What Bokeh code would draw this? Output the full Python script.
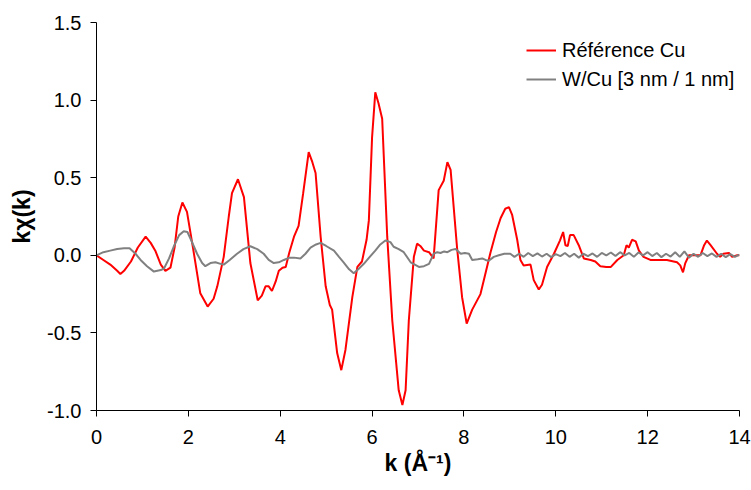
from bokeh.plotting import figure
from bokeh.models import Range1d, FixedTicker, NumeralTickFormatter, Legend, LegendItem
from bokeh.embed import file_html
from bokeh.resources import INLINE

# Référence Cu (red)
ref_k = [0.00, 0.15, 0.30, 0.45, 0.52, 0.60, 0.75, 0.90, 1.07, 1.18, 1.28, 1.40, 1.50, 1.61, 1.70,
         1.78, 1.87, 1.97, 2.10, 2.26, 2.42, 2.55, 2.63, 2.77, 2.88, 2.95, 3.08, 3.21, 3.35, 3.51,
         3.60, 3.68, 3.75, 3.82, 3.90, 3.97, 4.05, 4.12, 4.20, 4.30, 4.40, 4.50, 4.62, 4.70, 4.77,
         4.88, 4.99, 5.08, 5.13, 5.24, 5.33, 5.42, 5.57, 5.68, 5.78, 5.88, 5.93, 6.00, 6.07, 6.14,
         6.22, 6.33, 6.44, 6.58, 6.66, 6.73, 6.80, 6.91, 6.98, 7.05, 7.13, 7.24, 7.34, 7.45, 7.56,
         7.64, 7.71, 7.85, 7.96, 8.06, 8.18, 8.36, 8.45, 8.58, 8.70, 8.80, 8.90, 8.98, 9.05, 9.16,
         9.23, 9.30, 9.45, 9.52, 9.63, 9.70, 9.81, 9.96, 10.09, 10.16, 10.21, 10.26, 10.31, 10.39,
         10.50, 10.61, 10.76, 10.86, 10.97, 11.10, 11.20, 11.34, 11.48, 11.54, 11.59, 11.66, 11.74,
         11.81, 11.91, 12.06, 12.25, 12.42, 12.64, 12.71, 12.77, 12.82, 12.90, 13.15, 13.23, 13.29,
         13.37, 13.51, 13.58, 13.65, 13.77, 13.84, 13.95, 14.00]
ref_y = [0.00, -0.03, -0.06, -0.10, -0.12, -0.10, -0.04, 0.05, 0.12, 0.08, 0.03, -0.06, -0.10, -0.08, 0.05,
         0.25, 0.34, 0.28, 0.05, -0.245, -0.33, -0.28, -0.20, -0.01, 0.25, 0.40, 0.49, 0.375, -0.05, -0.29,
         -0.26, -0.20, -0.20, -0.23, -0.17, -0.10, -0.08, -0.075, 0.02, 0.12, 0.19, 0.40, 0.665, 0.60, 0.53,
         0.12, -0.20, -0.32, -0.35, -0.63, -0.74, -0.61, -0.27, -0.075, -0.04, 0.10, 0.225, 0.76, 1.05, 0.98,
         0.88, 0.12, -0.42, -0.87, -0.965, -0.87, -0.42, -0.01, 0.075, 0.06, 0.03, 0.02, -0.02, 0.42, 0.48,
         0.60, 0.55, 0.05, -0.27, -0.44, -0.35, -0.25, -0.14, 0.02, 0.15, 0.24, 0.30, 0.31, 0.26, 0.10,
         -0.03, -0.065, -0.06, -0.16, -0.22, -0.19, -0.075, 0.01, 0.095, 0.15, 0.065, 0.06, 0.13, 0.13,
         0.065, -0.02, -0.03, -0.04, -0.07, -0.075, -0.075, -0.03, 0.00, 0.065, 0.05, 0.10, 0.09,
         0.03, -0.01, -0.03, -0.03, -0.03, -0.045, -0.065, -0.11, -0.05, 0.00, 0.00, 0.065, 0.095,
         0.065, 0.01, -0.01, 0.01, 0.015, -0.01, 0.00, 0.00]

# W/Cu [3 nm / 1 nm] (grey)
wcu_k = [0.00, 0.15, 0.30, 0.45, 0.60, 0.72, 0.85, 0.96, 1.10, 1.25, 1.40, 1.47, 1.58, 1.68, 1.80,
         1.90, 1.98, 2.05, 2.19, 2.30, 2.37, 2.48, 2.59, 2.70, 2.77, 2.90, 3.06, 3.20, 3.35, 3.50,
         3.64, 3.75, 3.86, 3.97, 4.08, 4.20, 4.30, 4.44, 4.55, 4.66, 4.78, 4.88, 5.00, 5.17, 5.28,
         5.38, 5.50, 5.60, 5.70, 5.82, 5.95, 6.07, 6.18, 6.29, 6.35, 6.40, 6.47, 6.58, 6.69, 6.84,
         7.02, 7.13, 7.24, 7.34, 7.42, 7.49, 7.57, 7.64, 7.73, 7.82, 7.93, 8.02, 8.11, 8.18, 8.30,
         8.40, 8.47, 8.54, 8.65, 8.76, 8.88, 9.01,
         9.1, 9.2, 9.3, 9.4, 9.5, 9.6, 9.7, 9.8, 9.9, 10.0, 10.1, 10.2, 10.3, 10.4, 10.5, 10.6, 10.7,
         10.8, 10.9, 11.0, 11.1, 11.2, 11.3, 11.4, 11.5, 11.6, 11.7, 11.8, 11.9, 12.0, 12.1, 12.2,
         12.3, 12.4, 12.5, 12.6, 12.7, 12.8, 12.9, 13.0, 13.1, 13.2, 13.3, 13.4, 13.5, 13.6, 13.7,
         13.8, 13.9, 14.0]
wcu_y = [0.00, 0.02, 0.03, 0.04, 0.045, 0.045, 0.01, -0.03, -0.07, -0.105, -0.095, -0.085, -0.02, 0.055, 0.13,
         0.155, 0.15, 0.105, 0.01, -0.05, -0.07, -0.05, -0.045, -0.055, -0.06, -0.03, 0.01, 0.04, 0.058, 0.04,
         0.01, -0.03, -0.05, -0.045, -0.03, -0.015, -0.015, -0.02, 0.01, 0.05, 0.07, 0.08, 0.06, 0.03, -0.01,
         -0.045, -0.09, -0.115, -0.09, -0.055, -0.01, 0.03, 0.07, 0.095, 0.09, 0.085, 0.055, 0.04, 0.02, -0.045,
         -0.075, -0.07, -0.055, 0.01, 0.02, 0.015, 0.025, 0.02, 0.035, 0.04, 0.01, 0.015, 0.01, -0.03, -0.025,
         -0.02, -0.03, -0.035, -0.01, 0.00, 0.01, 0.01,
         -0.01, 0.01, -0.01, 0.015, -0.005, 0.012, -0.008, 0.01, -0.012, 0.008, -0.005, 0.015, -0.01, 0.01,
         -0.015, 0.01, -0.005, 0.012, -0.01, 0.015, 0.0, 0.018, -0.005, 0.02, 0.0, 0.015, -0.01, 0.018,
         0.0, 0.02, -0.005, 0.015, -0.012, 0.01, -0.008, 0.02, -0.01, 0.025, -0.015, 0.01, -0.01, 0.015,
         -0.005, 0.012, -0.01, 0.01, -0.012, 0.008, -0.01, 0.005]

x_ticks = [0, 2, 4, 6, 8, 10, 12, 14]
y_ticks = [-1.0, -0.5, 0.0, 0.5, 1.0, 1.5]

FONT = "Liberation Sans"

p = figure(width=751, height=490, output_backend="svg", toolbar_location=None,
           x_range=Range1d(0, 14), y_range=Range1d(-1, 1.5),
           min_border_left=96, min_border_right=12, min_border_top=22, min_border_bottom=80)
p.xgrid.visible = False
p.ygrid.visible = False
p.outline_line_color = None

r_ref = p.line(ref_k, ref_y, line_color="#FF0000", line_width=2)
r_wcu = p.line(wcu_k, wcu_y, line_color="#808080", line_width=2)

for ax in (p.xaxis[0], p.yaxis[0]):
    ax.axis_line_color = "black"
    ax.axis_line_width = 1
    ax.major_tick_in = 0
    ax.major_tick_out = 6
    ax.major_tick_line_color = "black"
    ax.minor_tick_line_color = None
    ax.major_label_text_font = FONT
    ax.major_label_text_font_size = "20px"
    ax.major_label_text_color = "black"
    ax.axis_label_text_font = FONT
    ax.axis_label_text_font_size = "23px"
    ax.axis_label_text_font_style = "bold"
    ax.axis_label_text_color = "black"

p.xaxis[0].ticker = FixedTicker(ticks=x_ticks)
p.yaxis[0].ticker = FixedTicker(ticks=y_ticks)
p.yaxis[0].formatter = NumeralTickFormatter(format="0.0")
p.xaxis[0].major_label_standoff = 13
p.yaxis[0].major_label_standoff = 9
p.xaxis[0].axis_label = "k (Å⁻¹)"
p.yaxis[0].axis_label = "kχ(k)"
p.xaxis[0].axis_label_standoff = 3
p.yaxis[0].axis_label_standoff = 9

legend = Legend(items=[LegendItem(label="Référence Cu", renderers=[r_ref]),
                       LegendItem(label="W/Cu [3 nm / 1 nm]", renderers=[r_wcu])],
                location=(430, 319))
legend.border_line_color = None
legend.background_fill_alpha = 0
legend.padding = 0
legend.margin = 0
legend.spacing = 5
legend.glyph_width = 30
legend.glyph_height = 24
legend.label_standoff = 6
legend.label_text_font = FONT
legend.label_text_font_size = "20px"
legend.label_text_color = "black"
p.add_layout(legend)

open("out.html", "w").write(file_html(p, INLINE))
